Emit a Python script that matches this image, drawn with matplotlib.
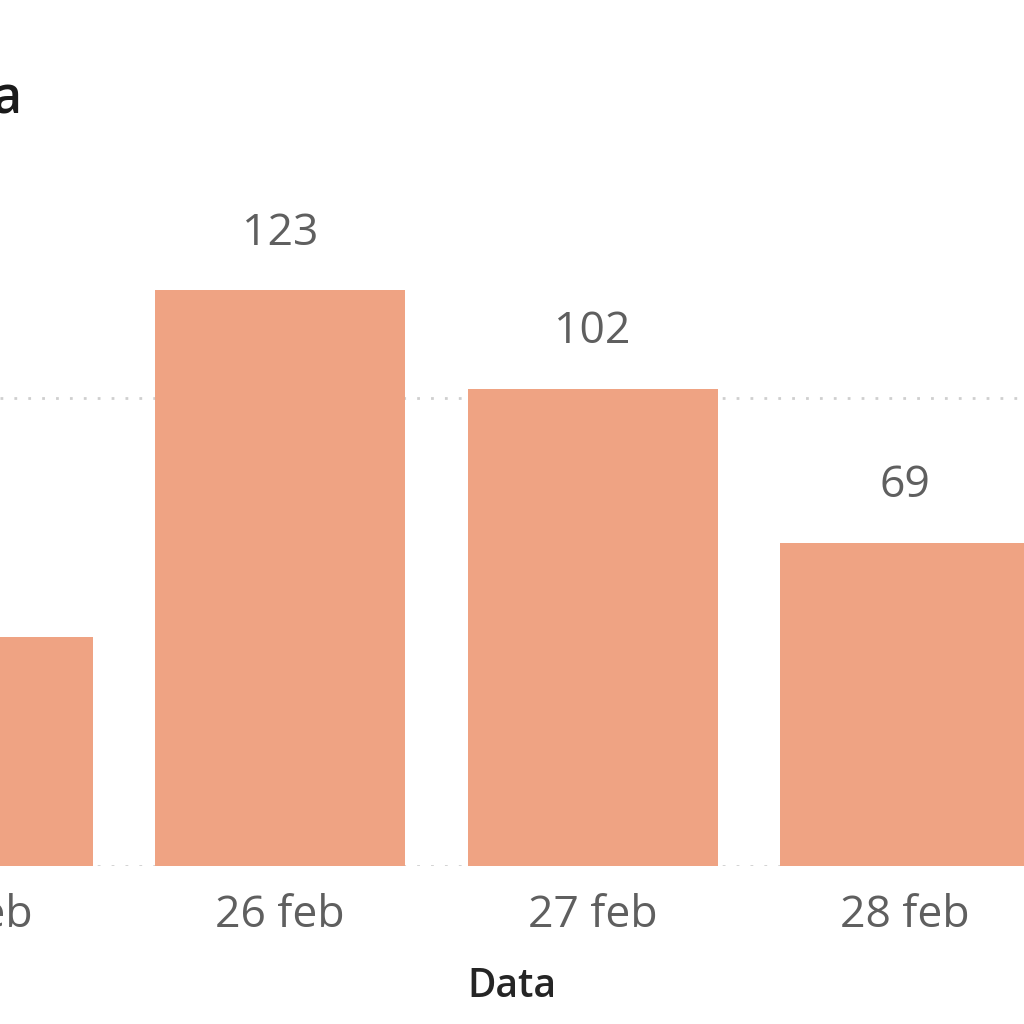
import numpy as np
import matplotlib.pyplot as plt

'''Chart data'''
giorni = ["25 feb", "26 feb", "27 feb", "28 feb"]
casi = [49, 123, 102, 69]
griglia = [0, 100]

bar_colour = "#EFA383"
label_colour = "#5f5f5f"

plt.rcParams['font.family'] = ['Open Sans', 'DejaVu Sans']


def main():
    fig = plt.figure(figsize=(10.24, 10.24), dpi=100)
    # axes deliberately wider than the picture: the reference is a crop
    ax = fig.add_axes([0.0, 1 - 866 / 1024, 1.0, 866 / 1024])

    x = np.arange(len(giorni))

    for g in griglia:
        ax.axhline(g, color="#cfcfcf", lw=2, ls=(0, (1, 4)), zorder=0)

    bars = ax.bar(x, casi, width=0.8, color=bar_colour, zorder=2)
    for rect, v in zip(bars, casi):
        ax.annotate(str(v), (rect.get_x() + rect.get_width() / 2, v),
                    xytext=(0, 25), textcoords="offset points",
                    ha="center", va="bottom", fontsize=32, color=label_colour,
                    annotation_clip=False)

    # category labels as annotations so the cropped first one still shows
    for xi, g in zip(x, giorni):
        ax.annotate(g, (xi, 0), xytext=(0, -20), textcoords="offset points",
                    ha="center", va="top", fontsize=32, color=label_colour,
                    annotation_clip=False)

    ax.set_xticks([])
    ax.set_yticks([])
    for s in ax.spines.values():
        s.set_visible(False)

    spacing = 312.5
    x0 = 1 - 280 / spacing
    ax.set_xlim(x0, x0 + 1024 / spacing)
    ax.set_ylim(0, 866 / 4.68)

    fig.text(0.5, 1 - 987 / 1024, "Data", ha="center", va="center",
             fontsize=28, color="#252525", fontweight="semibold")

    fig.text(22 / 1024, 1 - 100 / 1024, "a", ha="right", va="center",
             fontsize=36, color="#1a1a1a", fontweight="semibold")

    fig.savefig("out.png", dpi=100)


if __name__ == '__main__':
    main()
